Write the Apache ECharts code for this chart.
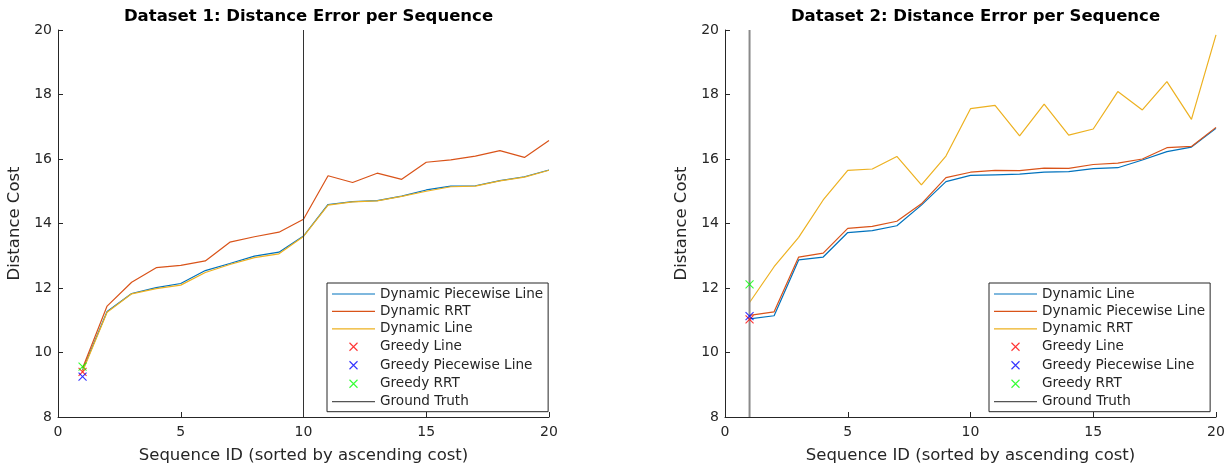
<!DOCTYPE html>
<html>
<head>
<meta charset="utf-8">
<script src="https://cdn.jsdelivr.net/npm/echarts@6/dist/echarts.min.js"></script>
<style>
  html, body { margin: 0; padding: 0; background: #fff; }
  .panel { position: absolute; top: 0; height: 466px; }
  #chart1 { left: 0; width: 614px; }
  #chart2 { left: 614px; width: 615px; }
</style>
</head>
<body>
<div id="chart1" class="panel"></div>
<div id="chart2" class="panel"></div>
<script>
// 序列编号
const seqIds = [1, 2, 3, 4, 5, 6, 7, 8, 9, 10, 11, 12, 13, 14, 15, 16, 17, 18, 19, 20]
const yTicks = [8, 10, 12, 14, 16, 18, 20]
const xTicks = [0, 5, 10, 15, 20]

// Dataset 1
const d1PiecewiseLine = [9.45, 11.27, 11.83, 12.01, 12.14, 12.54, 12.76, 12.99, 13.11, 13.61, 14.59, 14.68, 14.71, 14.85, 15.04, 15.16, 15.17, 15.33, 15.45, 15.66]
const d1RRT = [9.51, 11.44, 12.18, 12.63, 12.70, 12.84, 13.42, 13.59, 13.73, 14.13, 15.48, 15.27, 15.56, 15.37, 15.90, 15.97, 16.09, 16.26, 16.05, 16.57]
const d1Line = [9.41, 11.25, 11.82, 11.98, 12.09, 12.48, 12.73, 12.94, 13.06, 13.60, 14.57, 14.67, 14.70, 14.84, 15.00, 15.14, 15.16, 15.32, 15.44, 15.65]
const d1Greedy = [9.40, 9.25, 9.56] // Line, Piecewise Line, RRT
const d1GroundTruth = [10]

// Dataset 2
const d2Line = [11.04, 11.14, 12.87, 12.96, 13.72, 13.78, 13.93, 14.57, 15.30, 15.49, 15.51, 15.53, 15.59, 15.61, 15.70, 15.73, 15.97, 16.23, 16.37, 16.95]
const d2PiecewiseLine = [11.15, 11.26, 12.96, 13.08, 13.85, 13.91, 14.07, 14.61, 15.42, 15.59, 15.65, 15.64, 15.72, 15.71, 15.83, 15.87, 16.00, 16.35, 16.39, 16.98]
const d2RRT = [11.55, 12.66, 13.57, 14.73, 15.65, 15.69, 16.08, 15.20, 16.09, 17.56, 17.66, 16.72, 17.70, 16.74, 16.93, 18.09, 17.52, 18.40, 17.23, 19.85]
const d2Greedy = [11.03, 11.13, 12.11]
const d2GroundTruth = [1]

// MATLAB 默认颜色
const blue = '#0072BD'
const orange = '#D95319'
const yellow = '#EDB120'
const axisColor = '#262626'
const font = 'DejaVu Sans'

// 带留白的 x 形标记
const xMark = 'path://M-3,-3M0,0L8,8M8,0L0,8M11,11'
// 图例里的细线
const lineIcon = 'path://M0,0H43V1.2H0Z'

const lineSeries = (name, values, color) => ({
  name,
  type: 'line',
  data: values.map((v, i) => [seqIds[i], v]),
  symbol: 'none',
  lineStyle: { color, width: 1.2 },
  itemStyle: { color },
  z: 2
})

const greedySeries = (name, value, color) => ({
  name,
  type: 'scatter',
  data: [[seqIds[0], value]],
  symbol: xMark,
  symbolSize: 14,
  itemStyle: { color: 'rgba(0,0,0,0)', borderColor: color, borderWidth: 1.1 },
  z: 4
})

const truthSeries = (x, color, width) => ({
  name: 'Ground Truth',
  type: 'line',
  data: [[x, yTicks[0]], [x, yTicks[yTicks.length - 1]]],
  symbol: 'none',
  lineStyle: { color, width },
  itemStyle: { color: '#555' },
  z: 3
})

// 线条系列用细线图标，散点保持细 x 标记
const legendItems = (series) => series.map(s => (
  s.type === 'line'
    ? { name: s.name, icon: lineIcon, itemStyle: { color: s.itemStyle.color, borderWidth: 0 } }
    : { name: s.name, icon: xMark, itemStyle: { color: 'rgba(0,0,0,0)', borderColor: s.itemStyle.borderColor, borderWidth: 1.1 } }
))

const buildOption = (title, gridLeft, legendLeft, series) => ({
  animation: false,
  title: {
    text: title,
    left: gridLeft + 491 / 2,
    textAlign: 'center',
    top: 3,
    textStyle: { fontFamily: font, fontSize: 16.5, fontWeight: 'bold', color: '#000' }
  },
  grid: { left: gridLeft, top: 30, width: 491, height: 387, outerBoundsMode: 'none' },
  legend: {
    orient: 'vertical',
    left: legendLeft,
    top: 283,
    padding: [4, 5, 3, 5],
    itemGap: 3.4,
    itemWidth: 43,
    itemHeight: 14,
    borderColor: axisColor,
    borderWidth: 1,
    backgroundColor: '#fff',
    textStyle: { fontFamily: font, fontSize: 13.6, lineHeight: 14, color: axisColor },
    data: legendItems(series)
  },
  xAxis: {
    type: 'value',
    min: xTicks[0],
    max: xTicks[xTicks.length - 1],
    interval: 5,
    name: 'Sequence ID (sorted by ascending cost)',
    nameLocation: 'middle',
    nameGap: 30,
    nameTextStyle: { fontFamily: font, fontSize: 16.5, color: axisColor },
    axisLine: { onZero: false, lineStyle: { color: axisColor } },
    axisTick: { inside: true, length: 5, lineStyle: { color: axisColor } },
    axisLabel: { fontFamily: font, fontSize: 14, color: axisColor, margin: 8 },
    splitLine: { show: false }
  },
  yAxis: {
    type: 'value',
    min: yTicks[0],
    max: yTicks[yTicks.length - 1],
    interval: 2,
    name: 'Distance Cost',
    nameLocation: 'middle',
    nameGap: 28,
    nameRotate: 90,
    nameTextStyle: { fontFamily: font, fontSize: 16.5, color: axisColor },
    axisLine: { show: true, onZero: false, lineStyle: { color: axisColor } },
    axisTick: { show: true, inside: true, length: 5, lineStyle: { color: axisColor } },
    axisLabel: { fontFamily: font, fontSize: 14, color: axisColor, margin: 6 },
    splitLine: { show: false }
  },
  series
})

const chart1 = echarts.init(document.getElementById('chart1'))
chart1.setOption(buildOption('Dataset 1: Distance Error per Sequence', 58, 327, [
  lineSeries('Dynamic Piecewise Line', d1PiecewiseLine, blue),
  lineSeries('Dynamic RRT', d1RRT, orange),
  lineSeries('Dynamic Line', d1Line, yellow),
  greedySeries('Greedy Line', d1Greedy[0], '#ff0000'),
  greedySeries('Greedy Piecewise Line', d1Greedy[1], '#0000ff'),
  greedySeries('Greedy RRT', d1Greedy[2], '#00ff00'),
  truthSeries(d1GroundTruth[0], '#333', 1)
]))

const chart2 = echarts.init(document.getElementById('chart2'))
chart2.setOption(buildOption('Dataset 2: Distance Error per Sequence', 111, 375, [
  lineSeries('Dynamic Line', d2Line, blue),
  lineSeries('Dynamic Piecewise Line', d2PiecewiseLine, orange),
  lineSeries('Dynamic RRT', d2RRT, yellow),
  greedySeries('Greedy Line', d2Greedy[0], '#ff0000'),
  greedySeries('Greedy Piecewise Line', d2Greedy[1], '#0000ff'),
  greedySeries('Greedy RRT', d2Greedy[2], '#00ff00'),
  truthSeries(d2GroundTruth[0], '#8a8a8a', 2)
]))
</script>
</body>
</html>
